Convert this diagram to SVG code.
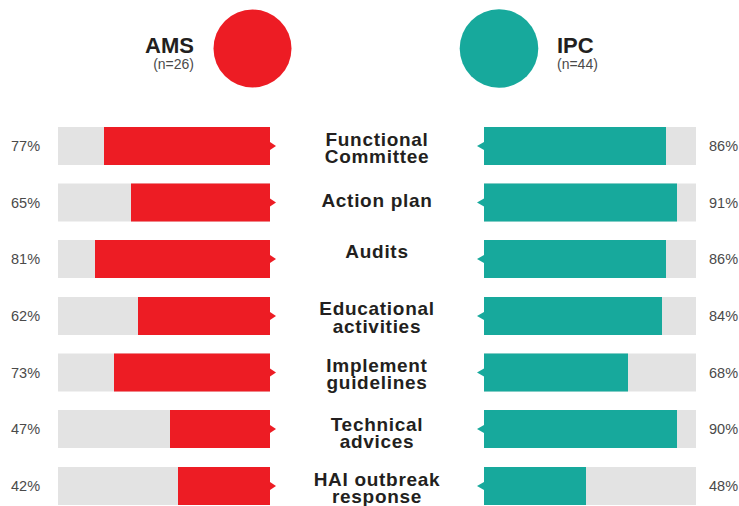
<svg xmlns="http://www.w3.org/2000/svg" width="739" height="506" viewBox="0 0 739 506">
<style>
.bg{fill:#e3e3e3}
.ams{fill:#ed1c24}
.ipc{fill:#17a99c}
.pct{font-family:"Liberation Sans",Arial,sans-serif;font-size:14.5px;fill:#4a4a4a}
.lbl{font-family:"Liberation Sans",Arial,sans-serif;font-size:19px;font-weight:bold;fill:#231f20;text-anchor:middle;letter-spacing:0.7px}
.ttl{font-family:"Liberation Sans",Arial,sans-serif;font-size:22px;font-weight:bold;fill:#231f20}
.n{font-family:"Liberation Sans",Arial,sans-serif;font-size:14px;fill:#4a4a4a}
</style>
<rect width="739" height="506" fill="#ffffff"/>
<g id="header-ams">
<circle class="ams" cx="252.5" cy="48.5" r="39"/>
<text class="ttl" x="194" y="52.5" text-anchor="end">AMS</text>
<text class="n" x="194" y="69" text-anchor="end">(n=26)</text>
</g>
<g id="header-ipc">
<circle class="ipc" cx="499" cy="48.5" r="39.3"/>
<text class="ttl" x="557" y="52.5">IPC</text>
<text class="n" x="557" y="69">(n=44)</text>
</g>
<g id="row-functional-committee">
<rect class="bg" x="58" y="127" width="212" height="38"/>
<rect class="ams" x="104" y="127" width="166" height="38"/>
<polygon class="ams" points="270,142 276,146 270,150"/>
<rect class="bg" x="484" y="127" width="212" height="38"/>
<rect class="ipc" x="484" y="127" width="182" height="38"/>
<polygon class="ipc" points="484,142 477,146 484,150"/>
<text class="pct" x="11" y="151">77%</text>
<text class="pct" x="709" y="151">86%</text>
<text class="lbl" x="377" y="146">Functional</text>
<text class="lbl" x="377" y="163.3">Committee</text>
</g>
<g id="row-action-plan">
<rect class="bg" x="58" y="183.5" width="212" height="38"/>
<rect class="ams" x="131" y="183.5" width="139" height="38"/>
<polygon class="ams" points="270,198.5 276,202.5 270,206.5"/>
<rect class="bg" x="484" y="183.5" width="212" height="38"/>
<rect class="ipc" x="484" y="183.5" width="193" height="38"/>
<polygon class="ipc" points="484,198.5 477,202.5 484,206.5"/>
<text class="pct" x="11" y="207.5">65%</text>
<text class="pct" x="709" y="207.5">91%</text>
<text class="lbl" x="377" y="207.3">Action plan</text>
</g>
<g id="row-audits">
<rect class="bg" x="58" y="240" width="212" height="38"/>
<rect class="ams" x="95" y="240" width="175" height="38"/>
<polygon class="ams" points="270,255 276,259 270,263"/>
<rect class="bg" x="484" y="240" width="212" height="38"/>
<rect class="ipc" x="484" y="240" width="182" height="38"/>
<polygon class="ipc" points="484,255 477,259 484,263"/>
<text class="pct" x="11" y="264">81%</text>
<text class="pct" x="709" y="264">86%</text>
<text class="lbl" x="377" y="257.7">Audits</text>
</g>
<g id="row-educational-activities">
<rect class="bg" x="58" y="297" width="212" height="38"/>
<rect class="ams" x="138" y="297" width="132" height="38"/>
<polygon class="ams" points="270,312 276,316 270,320"/>
<rect class="bg" x="484" y="297" width="212" height="38"/>
<rect class="ipc" x="484" y="297" width="178" height="38"/>
<polygon class="ipc" points="484,312 477,316 484,320"/>
<text class="pct" x="11" y="321">62%</text>
<text class="pct" x="709" y="321">84%</text>
<text class="lbl" x="377" y="315.3">Educational</text>
<text class="lbl" x="377" y="332.7">activities</text>
</g>
<g id="row-implement-guidelines">
<rect class="bg" x="58" y="353.5" width="212" height="38"/>
<rect class="ams" x="114" y="353.5" width="156" height="38"/>
<polygon class="ams" points="270,368.5 276,372.5 270,376.5"/>
<rect class="bg" x="484" y="353.5" width="212" height="38"/>
<rect class="ipc" x="484" y="353.5" width="144" height="38"/>
<polygon class="ipc" points="484,368.5 477,372.5 484,376.5"/>
<text class="pct" x="11" y="377.5">73%</text>
<text class="pct" x="709" y="377.5">68%</text>
<text class="lbl" x="377" y="371.7">Implement</text>
<text class="lbl" x="377" y="389.3">guidelines</text>
</g>
<g id="row-technical-advices">
<rect class="bg" x="58" y="410" width="212" height="38"/>
<rect class="ams" x="170" y="410" width="100" height="38"/>
<polygon class="ams" points="270,425 276,429 270,433"/>
<rect class="bg" x="484" y="410" width="212" height="38"/>
<rect class="ipc" x="484" y="410" width="193" height="38"/>
<polygon class="ipc" points="484,425 477,429 484,433"/>
<text class="pct" x="11" y="434">47%</text>
<text class="pct" x="709" y="434">90%</text>
<text class="lbl" x="377" y="430.7">Technical</text>
<text class="lbl" x="377" y="448.3">advices</text>
</g>
<g id="row-hai-outbreak-response">
<rect class="bg" x="58" y="467" width="212" height="38"/>
<rect class="ams" x="178" y="467" width="92" height="38"/>
<polygon class="ams" points="270,482 276,486 270,490"/>
<rect class="bg" x="484" y="467" width="212" height="38"/>
<rect class="ipc" x="484" y="467" width="102" height="38"/>
<polygon class="ipc" points="484,482 477,486 484,490"/>
<text class="pct" x="11" y="491">42%</text>
<text class="pct" x="709" y="491">48%</text>
<text class="lbl" x="377" y="486">HAI outbreak</text>
<text class="lbl" x="377" y="503.3">response</text>
</g>
<g id="connectors"></g>
</svg>
